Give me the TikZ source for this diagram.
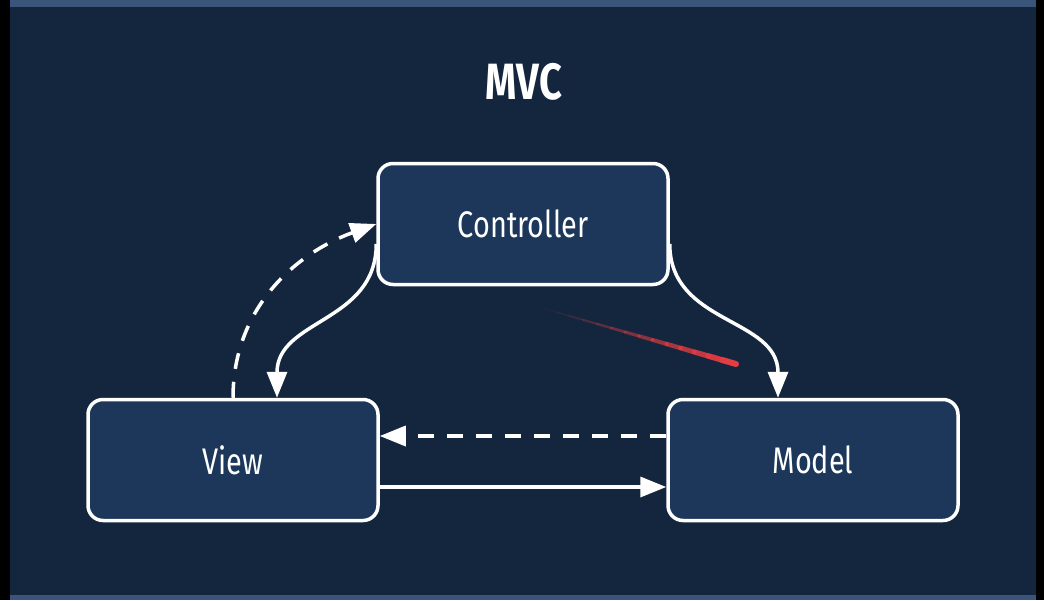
\documentclass[tikz,border=0pt]{standalone}
\usepackage{fontspec}
\setmainfont[FakeStretch=0.78]{Fira Sans}
\usetikzlibrary{arrows.meta,calc}
\definecolor{bgc}{RGB}{20,38,62}
\definecolor{boxc}{RGB}{28,55,90}
\definecolor{stripc}{RGB}{58,84,122}
\definecolor{laser}{RGB}{228,60,66}
\begin{document}
\begin{tikzpicture}[x=1pt, y=-1pt,
  box/.style={draw=white, line width=3.5pt, fill=boxc, rounded corners=15pt,
    minimum width=290pt, minimum height=121pt, text=white,
    font=\fontsize{37}{40}\selectfont},
  link/.style={draw=white, line width=3.5pt, -{Triangle[length=26pt,width=20pt]}},
  dlink/.style={link, dash pattern=on 16pt off 13pt}]
  \useasboundingbox (0,0) rectangle (1044,600);
  % frame
  \fill[black] (0,0) rectangle (1044,600);
  \fill[bgc] (10,0) rectangle (1036,600);
  \fill[stripc] (10,0) rectangle (1036,7);
  \fill[stripc] (10,595) rectangle (1036,600);
  \node[text=white, font=\fontsize{51}{56}\selectfont\bfseries] (title) at (524,82) {MVC};
  % boxes
  \node[box] (ctrl) at (523,224) {Controller};
  \node[box] (view) at (233,460) {View};
  \node[box] (model) at (813,460) {Model};
  % connectors
  \draw[link] ([yshift=-20pt]ctrl.west) to[out=-90, in=90, looseness=1.1] ([xshift=44pt]view.north);
  \draw[dlink] (view.north) to[out=90, in=200] (ctrl.west);
  \draw[link] ([yshift=-20pt]ctrl.east) to[out=-90, in=90, looseness=1.1] ([xshift=-35pt]model.north);
  \draw[dlink] ([yshift=24pt]model.west) -- ([yshift=24pt]view.east);
  \draw[link] ([yshift=-27pt]view.east) -- ([yshift=-27pt]model.west);
  % pointer streak
  \coordinate (s0) at (542,308);
  \coordinate (s1) at (736,364);
  \foreach \k in {1,...,14}
    \draw[laser, line cap=round, opacity=\k/14, line width=0.4pt+\k*0.4pt]
      ($(s0)!{(\k-1)/14}!(s1)$) -- ($(s0)!{\k/14}!(s1)$);
\end{tikzpicture}
\end{document}
